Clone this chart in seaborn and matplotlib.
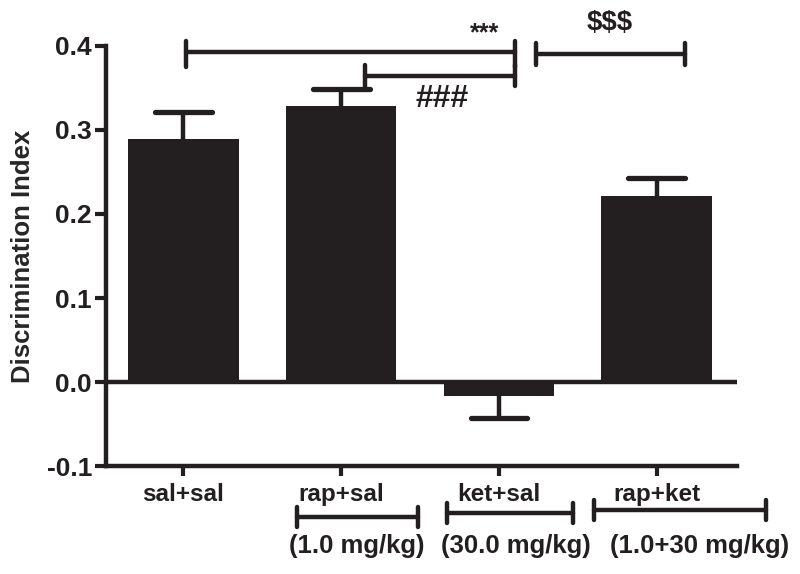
import matplotlib
matplotlib.use("Agg")
import matplotlib.pyplot as plt
import seaborn as sns
import numpy as np

# -------------------------
# Data
# -------------------------
groups = ["sal+sal", "rap+sal", "ket+sal", "rap+ket"]
means = [0.289, 0.329, -0.017, 0.221]
sems = [0.032, 0.020, 0.026, 0.022]

doses = ["(1.0 mg/kg)", "(30.0 mg/kg)", "(1.0+30 mg/kg)"]

INK = "#231f20"

sns.set_style("ticks")
plt.rcParams["font.family"] = ["Liberation Sans", "DejaVu Sans"]
plt.rcParams["font.weight"] = "bold"
plt.rcParams["axes.unicode_minus"] = False

fig = plt.figure(figsize=(8, 5.74), dpi=100)
ax = fig.add_axes([0.1325, 0.188, 0.789, 0.732])

sns.barplot(
    x=groups,
    y=means,
    color=INK,
    saturation=1,
    width=0.7,
    errorbar=None,
    linewidth=0,
    ax=ax,
)

# one-sided SEM bars, pointing away from zero
m = np.array(means)
s = np.array(sems)
xpos = np.arange(len(groups))
tips = np.where(m < 0, m - s, m + s)
ax.vlines(xpos, m, tips, color=INK, lw=3.2, zorder=1)
ax.hlines(tips, xpos - 0.18, xpos + 0.18, color=INK, lw=3.8,
          capstyle="round", zorder=1)

ax.axhline(0, color=INK, lw=3.2, zorder=3)

# -------------------------
# Axes styling
# -------------------------
ax.set_xlim(-0.49, 3.51)
ax.set_ylim(-0.1, 0.4)
ax.set_yticks([-0.1, 0.0, 0.1, 0.2, 0.3, 0.4])
ax.set_yticklabels([f"{v:.1f}" for v in ax.get_yticks()])
ax.set_ylabel("Discrimination Index", fontsize=18.5, fontweight="bold")
ax.yaxis.set_label_coords(-0.113, 0.5)

for side in ["top", "right"]:
    ax.spines[side].set_visible(False)
for side in ["left", "bottom"]:
    ax.spines[side].set_linewidth(3.2)
    ax.spines[side].set_color(INK)

ax.tick_params(axis="y", length=8, width=3, color=INK, pad=2,
               labelsize=19, labelcolor=INK)
ax.tick_params(axis="x", length=7, width=3, color=INK, pad=5,
               labelsize=17.5, labelcolor=INK)
for lab in ax.get_xticklabels() + ax.get_yticklabels():
    lab.set_fontweight("bold")


def bracket(x0, x1, y, h0, h1=None, lw=3.2):
    h1 = h0 if h1 is None else h1
    ax.plot([x0, x1], [y, y], color=INK, lw=lw, clip_on=False,
            solid_capstyle="round")
    ax.plot([x0, x0], [h0[0], h0[1]], color=INK, lw=lw, clip_on=False,
            solid_capstyle="round")
    ax.plot([x1, x1], [h1[0], h1[1]], color=INK, lw=lw, clip_on=False,
            solid_capstyle="round")


# significance brackets
bracket(0.016, 2.10, 0.393, (0.375, 0.406))
ax.text(1.91, 0.415, "***", ha="center", va="center", fontsize=18,
        fontweight="bold", color=INK, clip_on=False)

bracket(1.15, 2.10, 0.364, (0.349, 0.377), (0.352, 0.377))
ax.text(1.64, 0.337, "###", ha="center", va="center", fontsize=23,
        fontweight="bold", color=INK)

bracket(2.234, 3.178, 0.390, (0.377, 0.403))
ax.text(2.70, 0.427, "$$$", ha="center", va="center", fontsize=20,
        fontweight="bold", color=INK, clip_on=False)

# dose brackets under the x labels
dose_spans = [(0.72, 1.486, -0.161), (1.67, 2.468, -0.156), (2.60, 3.69, -0.152)]
dose_x = [1.10, 2.11, 3.27]
for (x0, x1, y), xt, label in zip(dose_spans, dose_x, doses):
    bracket(x0, x1, y, (y - 0.012, y + 0.012))
    ax.text(xt, -0.195, label, ha="center", va="center", fontsize=18.5,
            fontweight="bold", color=INK, clip_on=False)

fig.savefig("out.png", dpi=100)
plt.close(fig)
